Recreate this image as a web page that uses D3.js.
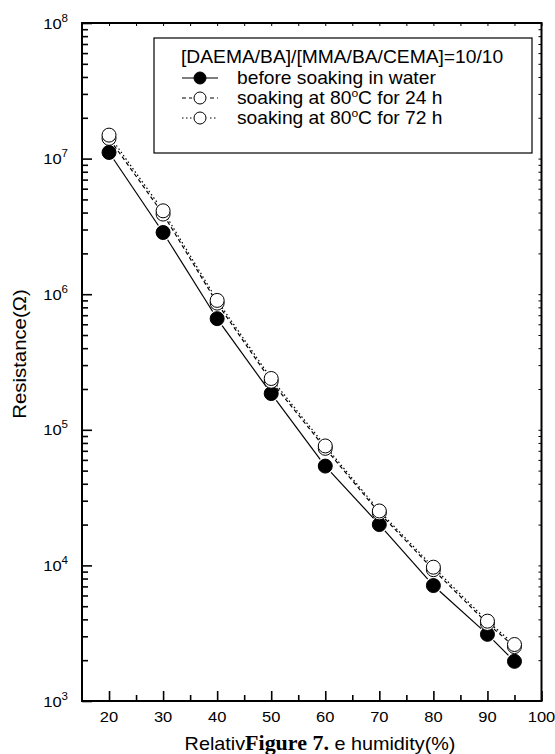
<!DOCTYPE html>
<html lang="en">
<head>
<meta charset="UTF-8">
<title>Resistance vs relative humidity</title>
<script src="https://d3js.org/d3.v7.min.js"></script>
<style>
    body { margin: 0; background: #fff; }
    svg text { font-family: Arial, "Liberation Sans", sans-serif; fill: #000; }
</style>
</head>
<body>
<svg id="chart" width="555" height="754"></svg>
<script>
// data
const humidity = [20, 30, 40, 50, 60, 70, 80, 90, 95];
const before   = [1.11e7, 2.85e6, 6.6e5, 1.85e5, 5.4e4, 2.0e4, 7.1e3, 3.1e3, 1.96e3];
const soak24   = [1.41e7, 3.9e6, 8.6e5, 2.28e5, 7.3e4, 2.44e4, 9.3e3, 3.73e3, 2.52e3];
const soak72   = [1.49e7, 4.12e6, 9.0e5, 2.39e5, 7.6e4, 2.52e4, 9.7e3, 3.88e3, 2.61e3];

const xMajor = [20, 30, 40, 50, 60, 70, 80, 90, 100];
const xMinor = [25, 35, 45, 55, 65, 75, 85, 95];
const yExp   = [3, 4, 5, 6, 7, 8];

const legendTitle = "[DAEMA/BA]/[MMA/BA/CEMA]=10/10";

const svg = d3.select("#chart");
const L = 82, R = 541.5, T = 23, B = 701;
const SX = 1.1;   // the original font runs a bit wider than Arial

const x = d3.scaleLinear().domain([15, 100]).range([L, R]);
const y = d3.scaleLog().domain([1e3, 1e8]).range([B, T]);

const yMajor = yExp.map(e => Math.pow(10, e));
const yMinor = [];
yExp.slice(0, -1).forEach(e => {
    for (let k = 2; k <= 9; k++) yMinor.push(k * Math.pow(10, e));
});

// text placed at (px,py), optionally rotated, widened by SX
function wideText(parent, px, py, rot, size) {
    return parent.append("g")
        .attr("transform", `translate(${px},${py}) rotate(${rot}) scale(${SX},1)`)
        .append("text").attr("font-size", size);
}

// ---- axes (ticks pointing inward) ----
function tickGroup(axis, tr) {
    const g = svg.append("g").attr("transform", tr).call(axis);
    g.select(".domain").remove();
    g.selectAll("line").attr("stroke", "#000").attr("stroke-width", 1.6);
    return g;
}
tickGroup(d3.axisBottom(x).tickValues(xMajor).tickSize(-10).tickFormat(""), `translate(0,${B})`);
tickGroup(d3.axisBottom(x).tickValues(xMinor).tickSize(-6).tickFormat(""), `translate(0,${B})`);
tickGroup(d3.axisTop(x).tickValues(xMajor.concat(xMinor)).tickSize(-3).tickFormat(""), `translate(0,${T})`)
    .selectAll("line").attr("stroke-width", 1);
tickGroup(d3.axisLeft(y).tickValues(yMajor).tickSize(-10).tickFormat(""), `translate(${L},0)`);
tickGroup(d3.axisLeft(y).tickValues(yMinor).tickSize(-6).tickFormat(""), `translate(${L},0)`);
tickGroup(d3.axisRight(y).tickValues(yMajor.concat(yMinor)).tickSize(-3).tickFormat(""), `translate(${R},0)`)
    .selectAll("line").attr("stroke-width", 1);

// frame
svg.append("rect")
    .attr("x", L).attr("y", T).attr("width", R - L).attr("height", B - T)
    .attr("fill", "none").attr("stroke", "#000").attr("stroke-width", 2);

// x tick labels
xMajor.forEach(d => {
    wideText(svg, x(d), B + 21, 0, 15).attr("text-anchor", "middle").text(d);
});

// y tick labels 10^n
yExp.forEach(d => {
    const t = wideText(svg, 68, y(Math.pow(10, d)) + 5.5, 0, 15).attr("text-anchor", "end");
    t.append("tspan").text("10");
    t.append("tspan").attr("font-size", 10.5).attr("dy", -7).text(d);
});

// axis titles
const xt = wideText(svg, 320, 750, 0, 18).attr("text-anchor", "middle");
xt.append("tspan").text("Relativ");
xt.append("tspan").attr("font-family", "'Times New Roman', 'Liberation Serif', serif")
    .attr("font-weight", "bold").attr("font-size", 20).text("Figure 7.");
xt.append("tspan").text(" e humidity(%)");

wideText(svg, 26, 354, -90, 18.5).attr("text-anchor", "middle").text("Resistance(\u03A9)");

// ---- series ----
const r = 7;
const series = [
    { vals: before, dash: null, fill: "#000" },
    { vals: soak24, dash: "4,3", fill: "#fff" },
    { vals: soak72, dash: "1.5,2.5", fill: "#fff" }
];

// line segments with small gaps round the markers
function gapped(pts, gap) {
    const segs = [];
    for (let i = 0; i < pts.length - 1; i++) {
        const [x0, y0] = pts[i], [x1, y1] = pts[i + 1];
        const len = Math.hypot(x1 - x0, y1 - y0);
        if (len <= 2 * gap) continue;
        const ux = (x1 - x0) / len, uy = (y1 - y0) / len;
        segs.push([[x0 + ux * gap, y0 + uy * gap], [x1 - ux * gap, y1 - uy * gap]]);
    }
    return segs;
}

const lineGen = d3.line();
series.forEach(s => {
    const pts = humidity.map((h, i) => [x(h), y(s.vals[i])]);
    svg.append("g").selectAll("path").data(gapped(pts, r + 1.5)).join("path")
        .attr("d", lineGen)
        .attr("fill", "none").attr("stroke", "#000").attr("stroke-width", 1.2)
        .attr("stroke-dasharray", s.dash);
});
series.forEach(s => {
    svg.append("g").selectAll("circle").data(humidity).join("circle")
        .attr("cx", d => x(d)).attr("cy", (d, i) => y(s.vals[i])).attr("r", r)
        .attr("fill", s.fill).attr("stroke", "#000").attr("stroke-width", 1);
});

// ---- legend ----
const lg = svg.append("g");
lg.append("rect").attr("x", 154).attr("y", 38).attr("width", 378).attr("height", 115)
    .attr("fill", "#fff").attr("stroke", "#000").attr("stroke-width", 1.2);
wideText(lg, 181, 63, 0, 17.5).text(legendTitle);

const legendRows = [
    { label: ["before soaking in water"], s: series[0] },
    { label: ["soaking at 80", "o", "C for 24 h"], s: series[1] },
    { label: ["soaking at 80", "o", "C for 72 h"], s: series[2] }
];
legendRows.forEach((row, i) => {
    const cy = 78 + i * 20;
    lg.append("line").attr("x1", 182).attr("x2", 218).attr("y1", cy).attr("y2", cy)
        .attr("stroke", "#000").attr("stroke-width", 1.2).attr("stroke-dasharray", row.s.dash);
    if (row.s.fill === "#fff") {
        lg.append("circle").attr("cx", 200).attr("cy", cy).attr("r", 8).attr("fill", "#fff");
    }
    lg.append("circle").attr("cx", 200).attr("cy", cy).attr("r", 6)
        .attr("fill", row.s.fill).attr("stroke", "#000");
    const t = wideText(lg, 237, cy + 6, 0, 17.5);
    t.append("tspan").text(row.label[0]);
    if (row.label.length > 1) {
        t.append("tspan").attr("font-size", 11).attr("dy", -7).text(row.label[1]);
        t.append("tspan").attr("dy", 7).text(row.label[2]);
    }
});
</script>
</body>
</html>
